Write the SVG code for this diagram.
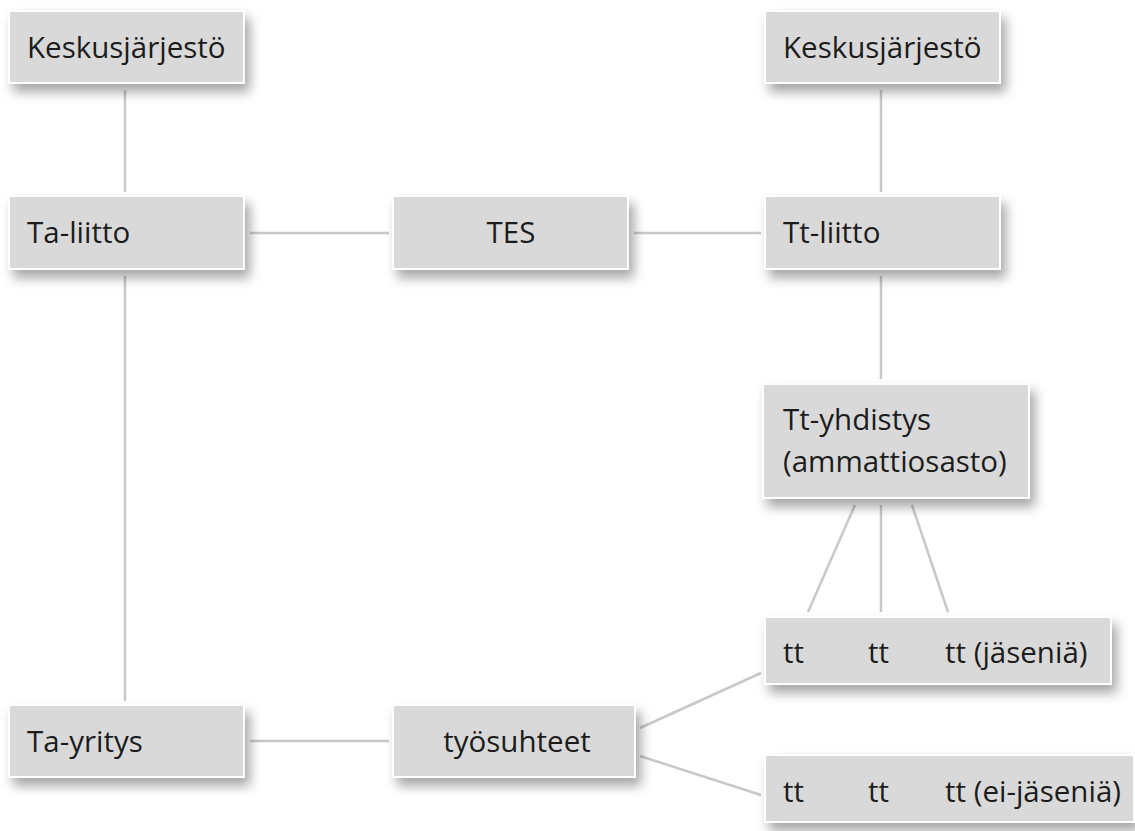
<svg xmlns="http://www.w3.org/2000/svg" width="1135" height="831" viewBox="0 0 1135 831">
<defs>
<filter id="sh" x="-10%" y="-20%" width="130%" height="160%">
<feDropShadow dx="5" dy="8" stdDeviation="6" flood-color="#000" flood-opacity="0.35"/>
</filter>
<style>
.box{fill:#d9d9d9;stroke:#fff;stroke-width:2;filter:url(#sh)}
.t{font-family:"Open Sans",Lato,sans-serif;font-size:29.5px;fill:#1c1c1c}
.c{stroke:#c8c8c8;stroke-width:2.5;fill:none}
</style>
</defs>
<rect width="1135" height="831" fill="#fff"/>
<g id="connectors">
<line class="c" x1="125" y1="90" x2="125" y2="192"/>
<line class="c" x1="881" y1="90" x2="881" y2="192"/>
<line class="c" x1="250" y1="233" x2="389" y2="233"/>
<line class="c" x1="634" y1="233" x2="761" y2="233"/>
<line class="c" x1="881" y1="276" x2="881" y2="379"/>
<line class="c" x1="125" y1="276" x2="125" y2="701"/>
<line class="c" x1="250" y1="741" x2="389" y2="741"/>
<line class="c" x1="640" y1="728" x2="761" y2="673"/>
<line class="c" x1="640" y1="756" x2="761" y2="795"/>
<line class="c" x1="855" y1="505" x2="808" y2="612"/>
<line class="c" x1="881" y1="505" x2="881" y2="612"/>
<line class="c" x1="912" y1="505" x2="948" y2="612"/>
</g>
<g id="keskus-left"><rect class="box" x="9" y="11" width="235" height="72"/><text class="t" x="27" y="58">Keskusjärjestö</text></g>
<g id="keskus-right"><rect class="box" x="765" y="11" width="235" height="72"/><text class="t" x="783" y="58">Keskusjärjestö</text></g>
<g id="ta-liitto"><rect class="box" x="9" y="196" width="235" height="73"/><text class="t" x="27" y="243">Ta-liitto</text></g>
<g id="tes"><rect class="box" x="393" y="196" width="235" height="73"/><text class="t" x="511" y="243" text-anchor="middle">TES</text></g>
<g id="tt-liitto"><rect class="box" x="765" y="196" width="235" height="73"/><text class="t" x="783" y="243">Tt-liitto</text></g>
<g id="tt-yhdistys"><rect class="box" x="763" y="384" width="266" height="114"/><text class="t" x="783" y="430">Tt-yhdistys</text><text class="t" x="783" y="472">(ammattiosasto)</text></g>
<g id="tt-jasenia"><rect class="box" x="765" y="617" width="346" height="67"/><text class="t" x="783" y="663">tt</text><text class="t" x="868" y="663">tt</text><text class="t" x="945" y="663">tt (jäseniä)</text></g>
<g id="tt-ei-jasenia"><rect class="box" x="765" y="755" width="369" height="67"/><text class="t" x="783" y="802">tt</text><text class="t" x="868" y="802">tt</text><text class="t" x="945" y="802">tt (ei-jäseniä)</text></g>
<g id="ta-yritys"><rect class="box" x="9" y="705" width="235" height="72"/><text class="t" x="27" y="752">Ta-yritys</text></g>
<g id="tyosuhteet"><rect class="box" x="393" y="705" width="242" height="72"/><text class="t" x="517" y="752" text-anchor="middle">työsuhteet</text></g>
</svg>
